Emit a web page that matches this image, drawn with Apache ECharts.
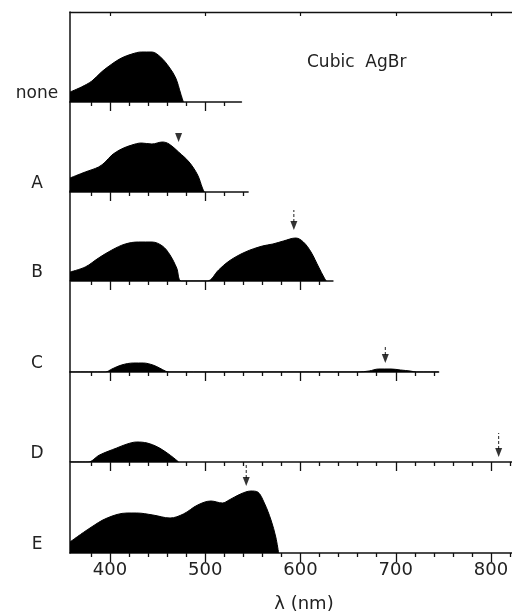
<!DOCTYPE html>
<html><head><meta charset="utf-8">
<script src="https://cdn.jsdelivr.net/npm/echarts@6/dist/echarts.min.js"></script>
<style>html,body{margin:0;padding:0;background:#fff}#c{width:512px;height:613px}</style>
</head><body><div id="c"></div>
<script>
// ---- data ----
const panelNames = ['none', 'A', 'B', 'C', 'D', 'E'];
const axisEnd = [538, 545, 634, 745, 822, 822];          // nm, end of each baseline
const majorTicks = [400, 500, 600, 700, 800];
const minorTicks = [380, 420, 440, 460, 480, 520, 540, 560, 580, 620, 640, 660, 680, 720, 740, 760, 780, 820];

const noneNm  = [358, 370, 381, 391, 402, 412, 423, 433, 444, 453, 462, 469, 474, 477];
const noneAbs = [10, 15, 21, 30, 38, 44, 48, 50, 50, 45, 35, 24, 9, 0];

const aNm  = [358, 374, 388, 395, 402, 412, 423, 433, 444, 455, 462, 472, 483, 492, 497, 499];
const aAbs = [14, 20, 25, 30, 37, 43, 47, 49, 48, 50, 48, 40, 30, 17, 4, 0];

const bNm  = [358, 374, 388, 402, 416, 430, 444, 455, 463, 470, 475, 502, 514, 525, 542, 560, 571, 582, 595, 603, 611, 619, 625, 627];
const bAbs = [9, 14, 23, 31, 37, 39, 39, 35, 26, 13, 0, 0, 11, 20, 29, 35, 37, 40, 43, 39, 29, 14, 3, 0];

const cNm  = [358, 395, 402, 412, 425, 435, 445, 452, 458, 462, 660, 672, 682, 695, 705, 715, 722, 745];
const cAbs = [0, 0, 3, 7, 9, 9, 7, 4, 1, 0, 0, 1, 3, 3, 2, 1, 0, 0];

const dNm  = [358, 377, 389, 407, 418, 428, 439, 450, 460, 467, 472];
const dAbs = [0, 0, 7, 14, 18, 20, 19, 15, 9, 4, 0];

const eNm  = [358, 379, 397, 418, 428, 445, 463, 477, 492, 506, 518, 525, 537, 548, 555, 562, 569, 574, 577];
const eAbs = [11, 25, 35, 40, 40, 38, 35, 39, 48, 52, 50, 53, 59, 62, 61, 50, 33, 16, 0];

const panelNm  = [noneNm, aNm, bNm, cNm, dNm, eNm];
const panelAbs = [noneAbs, aAbs, bAbs, cAbs, dAbs, eAbs];

// arrows marking sensitizing dye peaks
const arrowPanel = [1, 2, 3, 4, 5];
const arrowNm    = [472, 593, 689, 808, 543];
const arrowTip   = [50, 51, 9, 5, 67];
const arrowTop   = [null, 71, 27, 29, 88];

// ---- layout ----
const X0 = 358, X1 = 822, L = 70, W = 442, H = 90;
const baseY = [102, 192, 281, 372, 462, 553];
const FONT = 'DejaVu Sans';
const INK = '#111';

const grid = [], xAxis = [], yAxis = [], series = [];
panelNames.forEach((name, i) => {
  grid.push({ left: L, top: baseY[i] - H, height: H,
              width: (axisEnd[i] - X0) / (X1 - X0) * W, containLabel: false });
  const isLast = i === panelNames.length - 1;
  const minorIn = minorTicks.filter(v => v > X0 && v <= axisEnd[i]);
  const majorIn = majorTicks.filter(v => v > X0 && v <= axisEnd[i]);
  xAxis.push({
    type: 'value', gridIndex: i, min: X0, max: axisEnd[i], position: 'bottom',
    axisLine: { show: true, onZero: false, lineStyle: { color: INK, width: 1.5 } },
    axisTick: { show: true, customValues: minorIn, length: 4, lineStyle: { color: INK, width: 1.3 } },
    axisLabel: { show: false }, splitLine: { show: false }
  });
  xAxis.push({
    type: 'value', gridIndex: i, min: X0, max: axisEnd[i], position: 'bottom',
    axisLine: { show: false, onZero: false },
    axisTick: { show: true, customValues: majorIn, length: 9, lineStyle: { color: INK, width: 1.3 } },
    axisLabel: { show: isLast, customValues: majorIn, margin: 8, fontSize: 18,
                 fontFamily: FONT, color: '#222' },
    splitLine: { show: false }
  });
  yAxis.push({
    type: 'value', gridIndex: i, min: 0, max: H,
    axisLine: { show: true, onZero: false, lineStyle: { color: INK, width: 1.5 } },
    axisTick: { show: false }, splitLine: { show: false },
    axisLabel: { show: true, customValues: [8], formatter: () => name,
                 align: 'center', margin: 33, fontSize: 17, fontFamily: FONT, color: '#222' }
  });
  series.push({
    type: 'line', xAxisIndex: 2 * i, yAxisIndex: i,
    data: panelNm[i].map((v, k) => [v, panelAbs[i][k]]),
    smooth: 0.35, showSymbol: false, silent: true,
    lineStyle: { color: '#000', width: 1 },
    areaStyle: { color: '#000', opacity: 1 }
  });
});

// top border
grid.push({ left: L, top: baseY[0] - H, height: H, width: W, containLabel: false });
xAxis.push({
  type: 'value', gridIndex: 6, min: X0, max: X1, position: 'top',
  axisLine: { show: true, onZero: false, lineStyle: { color: INK, width: 1.3 } },
  axisTick: { show: true, inside: true, customValues: majorTicks, length: 4, lineStyle: { color: INK, width: 1.2 } },
  axisLabel: { show: false }, splitLine: { show: false }
});
yAxis.push({ type: 'value', gridIndex: 6, min: 0, max: H, show: false });

// arrows
arrowPanel.forEach((p, k) => {
  series.push({
    type: 'scatter', xAxisIndex: 2 * p, yAxisIndex: p,
    data: [[arrowNm[k], arrowTip[k]]],
    symbol: 'path://M0,0L10,0L5,14Z', symbolSize: [7, 9], symbolOffset: [0, '-50%'],
    itemStyle: { color: '#000' }, silent: true, z: 5
  });
  if (arrowTop[k] !== null) {
    series.push({
      type: 'line', xAxisIndex: 2 * p, yAxisIndex: p,
      data: [[arrowNm[k], arrowTip[k] + 8], [arrowNm[k], arrowTop[k]]],
      showSymbol: false, silent: true,
      lineStyle: { color: '#222', width: 1, type: [3, 2] }
    });
  }
});

const chart = echarts.init(document.getElementById('c'), null, { renderer: 'canvas' });
chart.setOption({
  backgroundColor: '#fff',
  animation: false,
  grid, xAxis, yAxis, series,
  graphic: [
    { type: 'text', x: 307, y: 63,
      style: { text: 'Cubic  AgBr', font: '17px "DejaVu Sans"', fill: '#222', verticalAlign: 'middle', align: 'left' } },
    { type: 'text', x: 304, y: 604,
      style: { text: 'λ (nm)', font: '18px "DejaVu Sans"', fill: '#222', verticalAlign: 'middle', align: 'center' } }
  ]
});
</script>
</body></html>
